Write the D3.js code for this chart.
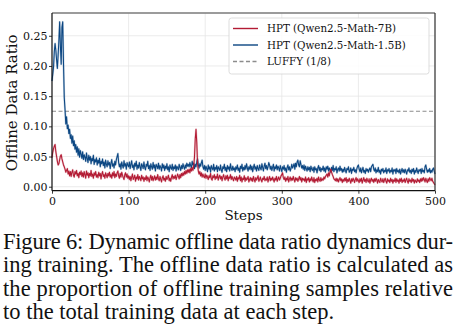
<!DOCTYPE html>
<html lang="en">
<head>
<meta charset="UTF-8">
<title>Offline Data Ratio</title>
<style>
  body { margin: 0; background: #fff; }
  svg { display: block; }
  .tick text { font-family: "DejaVu Serif", serif; font-size: 11px; fill: #111; }
  .grid line { stroke: #e6e6e6; stroke-width: 0.8px; }
  .lbl { font-family: "DejaVu Serif", serif; fill: #111; }
  .cap { font-family: "Liberation Serif", serif; font-size: 22.5px; fill: #111; }
</style>
<script src="https://d3js.org/d3.v7.min.js"></script>
</head>
<body>
<svg width="456" height="328"></svg>
<script>
// offline data ratio per step, in thousandths (steps 0..500)
const ratio15B = [
  175,186,198,224,237,226,210,196,218,242,273,232,203,264,273,205,148,128,104,116,
  96,102,88,95,80,86,72,84,68,76,62,70,57,66,52,63,49,60,54,47,
  58,45,53,49,42,56,47,40,52,44,50,38,47,43,52,37,45,41,48,36,
  44,39,47,33,42,38,46,35,41,31,44,37,33,43,36,40,30,39,45,34,
  38,31,42,36,45,50,55,40,33,38,29,41,35,31,43,34,38,29,40,36,
  33,41,30,37,43,32,36,28,39,34,42,29,36,31,40,33,27,38,35,30,
  41,32,28,37,34,42,30,35,27,38,33,29,40,31,36,26,37,34,30,39,
  29,35,32,26,38,31,36,27,34,30,38,28,33,25,36,31,29,37,27,33,
  30,36,26,34,31,28,37,32,27,35,30,38,33,29,36,31,39,34,37,33,
  40,35,31,42,36,39,30,37,33,41,46,36,31,38,34,40,44,33,29,35,
  27,34,30,25,36,29,33,24,35,31,28,37,26,32,29,35,25,33,30,27,
  36,28,24,33,30,37,27,32,25,35,29,33,26,38,30,27,34,28,31,25,
  33,29,36,27,31,24,34,30,37,26,32,28,35,29,38,31,26,33,29,36,
  28,34,25,32,37,29,33,26,35,30,27,36,31,28,38,32,26,34,39,30,
  35,28,33,40,36,29,34,27,32,37,26,33,30,36,28,34,31,26,35,30,
  25,33,29,35,27,31,24,32,36,28,33,26,30,37,31,34,38,29,39,33,
  41,44,36,33,43,37,31,35,29,36,27,34,30,26,33,28,32,25,34,29,
  27,32,24,33,28,30,23,31,35,27,32,25,30,28,34,26,31,24,33,29,
  34,26,31,28,24,32,27,35,25,30,28,33,23,29,31,26,34,27,30,24,
  29,25,32,27,23,30,28,33,24,26,31,22,29,27,32,25,28,23,30,34,
  36,29,25,31,23,28,32,24,27,22,30,26,29,24,28,31,25,33,35,37,
  29,26,31,23,28,25,32,24,27,21,29,26,30,23,27,25,31,22,28,26,
  30,23,27,25,31,21,28,26,29,22,30,25,27,23,29,21,26,30,24,28,
  23,29,25,21,28,26,31,24,27,22,29,25,30,21,27,24,31,26,22,28,
  26,29,22,30,25,27,23,33,36,29,24,28,25,30,23,27,24,29,31,26,
  21
];
const ratio7B = [
  48,57,63,67,70,58,50,42,36,38,45,51,53,46,41,36,33,29,24,27,
  30,21,26,18,25,17,24,28,19,16,25,21,27,18,22,15,24,20,26,17,
  23,16,25,20,14,26,19,23,15,22,18,27,17,21,14,23,19,25,16,20,
  15,24,18,22,13,21,25,17,20,14,23,19,15,22,18,24,16,20,14,23,
  18,25,15,21,17,23,26,18,14,22,16,24,19,15,12,20,23,16,21,14,
  18,12,17,10,16,21,12,15,19,9,16,13,20,11,17,14,10,19,13,16,
  9,15,12,18,10,16,13,8,15,19,11,17,10,14,18,11,16,12,20,13,
  10,17,12,8,15,18,11,14,9,17,12,15,19,10,14,9,16,20,13,17,
  14,19,12,16,21,17,13,20,15,22,18,23,19,25,21,27,22,28,24,29,
  23,30,26,32,27,34,49,79,95,73,38,26,21,25,18,23,16,21,17,15,
  21,14,19,16,12,18,15,22,13,11,18,15,20,12,17,14,21,11,16,19,
  13,17,10,16,20,14,11,18,13,19,10,16,14,20,12,17,13,10,16,14,
  11,17,9,15,13,19,10,16,8,14,12,18,9,15,11,13,17,8,12,15,
  10,14,9,17,12,8,15,11,14,18,9,12,16,11,8,14,12,17,10,13,
  11,16,8,13,17,10,14,11,16,12,8,14,11,17,9,13,16,11,14,18,
  20,23,15,12,16,9,14,11,17,8,13,16,10,14,11,17,12,8,15,11,
  14,9,13,17,11,15,8,14,11,13,9,16,7,13,11,15,8,13,10,16,
  11,8,15,7,12,10,14,8,16,11,9,15,10,13,11,16,13,17,19,21,
  16,23,18,25,29,24,20,17,13,12,10,14,9,13,8,12,15,10,13,7,
  12,9,14,10,15,7,12,9,14,10,6,13,9,14,11,7,12,15,9,13,
  10,7,13,9,14,6,11,15,9,12,7,14,10,8,13,6,11,14,9,12,
  7,13,9,14,11,6,12,9,7,14,10,8,13,7,11,14,9,6,13,9,
  11,7,14,9,12,6,11,9,14,7,13,9,11,6,13,9,14,7,11,9,
  13,7,11,14,9,6,13,9,11,7,14,9,12,6,11,9,7,13,9,11,
  7,13,9,14,10,15,12,8,14,10,7,13,9,15,12,10,14,9,7,5,
  3
];
const luffyRatio = 1 / 8;
const xTicks = [0, 100, 200, 300, 400, 500];
const yTicks = [0, 0.05, 0.10, 0.15, 0.20, 0.25];
const seriesNames = ["HPT (Qwen2.5-Math-7B)", "HPT (Qwen2.5-Math-1.5B)", "LUFFY (1/8)"];
const colors = ["#b31b34", "#0b4682", "#8c8c8c"];
const caption = [
  "Figure 6: Dynamic offline data ratio dynamics dur-",
  "ing training. The offline data ratio is calculated as",
  "the proportion of offline training samples relative",
  "to the total training data at each step."
];

const svg = d3.select("svg");
const plot = { left: 52, right: 435, top: 13, bottom: 190.7 };

const x = d3.scaleLinear().domain([0, 500]).range([plot.left, plot.right]);
const y = d3.scaleLinear().domain([-0.0066, 0.2877]).range([plot.bottom, plot.top]);

// grid
const grid = svg.append("g").attr("class", "grid");
grid.selectAll(".gx").data(xTicks).enter().append("line")
    .attr("x1", d => x(d)).attr("x2", d => x(d))
    .attr("y1", plot.top).attr("y2", plot.bottom);
grid.selectAll(".gy").data(yTicks).enter().append("line")
    .attr("x1", plot.left).attr("x2", plot.right)
    .attr("y1", d => y(d)).attr("y2", d => y(d));

// luffy reference line
svg.append("line")
    .attr("x1", plot.left).attr("x2", plot.right)
    .attr("y1", y(luffyRatio)).attr("y2", y(luffyRatio))
    .attr("stroke", colors[2]).attr("stroke-width", 1.1)
    .attr("stroke-dasharray", "4,2.5");

const line = d3.line()
    .x((d, i) => x(i))
    .y(d => y(d / 1000));

[[ratio15B, colors[1]], [ratio7B, colors[0]]].forEach(([data, c]) => {
    // faint halo behind the line
    svg.append("path").datum(data)
        .attr("fill", "none").attr("stroke", c)
        .attr("stroke-opacity", 0.25).attr("stroke-width", 2)
        .attr("stroke-linejoin", "round")
        .attr("d", line);
    svg.append("path").datum(data)
        .attr("fill", "none").attr("stroke", c)
        .attr("stroke-width", 1.05)
        .attr("stroke-linejoin", "round")
        .attr("d", line);
});

// axes
const xAxis = svg.append("g")
    .attr("transform", `translate(0,${plot.bottom})`)
    .call(d3.axisBottom(x).tickValues(xTicks).tickFormat(d3.format("d"))
        .tickSize(3).tickPadding(4));
const yAxis = svg.append("g")
    .attr("transform", `translate(${plot.left},0)`)
    .call(d3.axisLeft(y).tickValues(yTicks).tickFormat(d3.format(".2f"))
        .tickSize(3).tickPadding(1.5));
[xAxis, yAxis].forEach(a => {
    a.select(".domain").remove();
    a.selectAll(".tick line").attr("stroke", "#222").attr("stroke-width", 0.9);
});

// spines
svg.append("line").attr("x1", plot.left).attr("x2", plot.right)
    .attr("y1", plot.top).attr("y2", plot.top)
    .attr("stroke", "#7a7a7a").attr("stroke-width", 1.4);
svg.append("line").attr("x1", plot.right).attr("x2", plot.right)
    .attr("y1", plot.top).attr("y2", plot.bottom)
    .attr("stroke", "#333").attr("stroke-width", 1.2);
svg.append("line").attr("x1", plot.left).attr("x2", plot.left)
    .attr("y1", plot.top).attr("y2", plot.bottom)
    .attr("stroke", "#111").attr("stroke-width", 1.2);
svg.append("line").attr("x1", plot.left).attr("x2", plot.right)
    .attr("y1", plot.bottom).attr("y2", plot.bottom)
    .attr("stroke", "#111").attr("stroke-width", 1.2);

// axis labels
svg.append("text").attr("class", "lbl")
    .attr("x", (plot.left + plot.right) / 2).attr("y", 220)
    .attr("text-anchor", "middle").style("font-size", "13.5px")
    .text("Steps");
svg.append("text").attr("class", "lbl")
    .attr("transform", `translate(17,${(plot.top + plot.bottom) / 2 + 1}) rotate(-90)`)
    .attr("text-anchor", "middle").style("font-size", "15px")
    .text("Offline Data Ratio");

// legend
const legend = svg.append("g");
legend.append("rect")
    .attr("x", 229).attr("y", 18).attr("width", 200).attr("height", 56)
    .attr("rx", 2.5).attr("fill", "#fff").attr("fill-opacity", 0.85)
    .attr("stroke", "#d4d4d4").attr("stroke-width", 0.8);
seriesNames.forEach((name, i) => {
    const yy = 28.5 + i * 16.5;
    legend.append("line")
        .attr("x1", 233).attr("x2", 258).attr("y1", yy).attr("y2", yy)
        .attr("stroke", colors[i]).attr("stroke-width", 1.4)
        .attr("stroke-dasharray", i === 2 ? "4,2.5" : null);
    legend.append("text").attr("class", "lbl")
        .attr("x", 267).attr("y", yy + 3.6)
        .style("font-size", "10.3px")
        .text(name);
});

// caption
caption.forEach((t, i) => {
    const txt = svg.append("text").attr("class", "cap")
        .attr("x", 3).attr("y", 249 + i * 23.4)
        .text(t);
    if (i < caption.length - 1) {
        txt.attr("textLength", 450).attr("lengthAdjust", "spacing");
    }
});
</script>
</body>
</html>
